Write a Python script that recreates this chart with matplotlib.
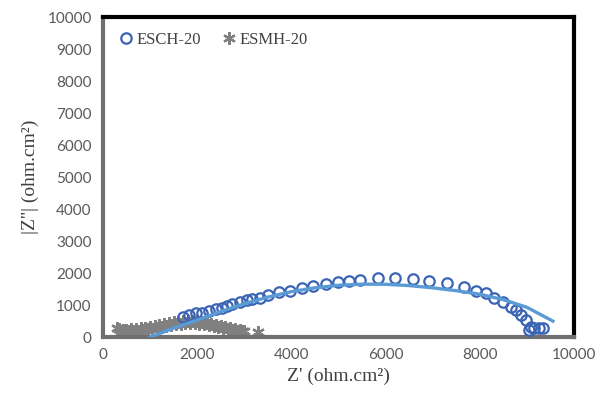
'''Nyquist plot of ESCH-20 and ESMH-20 impedance data'''
import matplotlib
matplotlib.use('Agg')
import matplotlib.pyplot as plt

# ESCH-20 measured points (Z', |Z''|)
esch_x = [1700, 1834, 1983, 2111, 2260, 2409, 2537, 2644, 2751, 2900, 3049, 3156,
          3326, 3497, 3731, 3966, 4222, 4456, 4733, 4989, 5230, 5458, 5842, 6205,
          6588, 6930, 7313, 7654, 7910, 8124, 8294, 8486, 8657, 8763, 8870, 8977,
          9083, 9040, 9147, 9254, 9339]
esch_y = [640, 688, 750, 750, 813, 875, 906, 969, 1031, 1094, 1156, 1188,
          1219, 1313, 1406, 1438, 1531, 1594, 1656, 1719, 1750, 1781, 1844, 1844,
          1813, 1750, 1688, 1563, 1438, 1375, 1219, 1094, 938, 844, 688, 531,
          313, 219, 281, 281, 281]

# ESCH-20 trend line
fit_x = [1000, 1500, 2000, 2500, 3000, 3500, 4000, 4500, 5000, 5500, 6000,
         6500, 7000, 7500, 8000, 8500, 9000, 9550]
fit_y = [0, 280, 530, 800, 1040, 1250, 1420, 1540, 1620, 1655, 1650,
         1610, 1540, 1450, 1340, 1170, 930, 500]

# ESMH-20 measured points
esmh_x = [300, 340, 380, 420, 460, 500, 550, 600, 650, 700, 750, 800, 850, 900,
          950, 1000, 1050, 1100, 1150, 1200, 1250, 1300, 1350, 1400, 1450, 1500,
          1550, 1600, 1650, 1700, 1750, 1800, 1850, 1900, 1950, 2000, 2050, 2100,
          2150, 2200, 2250, 2300, 2350, 2400, 2450, 2500, 2550, 2600, 2650, 2700,
          2750, 2800, 2850, 2900, 2950, 3000, 3300]
esmh_y = [300, 240, 190, 230, 170, 220, 180, 240, 190, 250, 200, 270, 220, 290,
          240, 320, 260, 350, 290, 380, 320, 410, 350, 440, 380, 460, 400, 480,
          420, 490, 430, 500, 440, 500, 430, 490, 420, 470, 400, 450, 370, 420,
          340, 390, 310, 350, 280, 320, 250, 290, 220, 250, 200, 220, 180, 190, 150]

fig = plt.figure(figsize=(5.98, 3.98), dpi=100)
ax = fig.add_axes([0.172, 0.153, 0.788, 0.804])

ax.plot(esmh_x, esmh_y, linestyle='none', marker=(6, 2, 0), markersize=9,
        markeredgewidth=1.6, color='#808080', markeredgecolor='#808080',
        label='ESMH-20', zorder=2)
ax.plot(esch_x, esch_y, linestyle='none', marker='o', markersize=7.5,
        markerfacecolor='none', markeredgecolor='#3b64b4', markeredgewidth=1.6,
        label='ESCH-20', zorder=3)
ax.plot(fit_x, fit_y, color='#5b9bd5', linewidth=2.4, zorder=4)

ax.set_xlim(0, 10000)
ax.set_ylim(0, 10000)
ax.set_xticks(range(0, 10001, 2000))
ax.set_yticks(range(0, 10001, 1000))
ax.tick_params(length=0, labelsize=11, labelcolor='#595959', pad=8)
for lbl in ax.get_xticklabels() + ax.get_yticklabels():
    lbl.set_family('Lato')

ax.spines['top'].set_color('black')
ax.spines['right'].set_color('black')
ax.spines['top'].set_linewidth(3)
ax.spines['right'].set_linewidth(3)
ax.spines['left'].set_color('#6f6f6f')
ax.spines['bottom'].set_color('#6f6f6f')
ax.spines['left'].set_linewidth(3)
ax.spines['bottom'].set_linewidth(3)

ax.set_xlabel("Z' (ohm.cm\u00b2)", family='Liberation Serif', fontsize=14,
              color='#404040', labelpad=4)
ax.set_ylabel("|Z''| (ohm.cm\u00b2)", family='Liberation Serif', fontsize=14,
              color='#404040', labelpad=6)

handles, labels = ax.get_legend_handles_labels()
ax.legend(handles[::-1], labels[::-1], loc='upper left', ncol=2, frameon=False,
          prop={'family': 'Liberation Serif', 'size': 12}, labelcolor='#404040',
          handletextpad=0.1, columnspacing=1.2, handlelength=1.0,
          bbox_to_anchor=(0.0, 1.0))

fig.savefig('out.png', dpi=100)
